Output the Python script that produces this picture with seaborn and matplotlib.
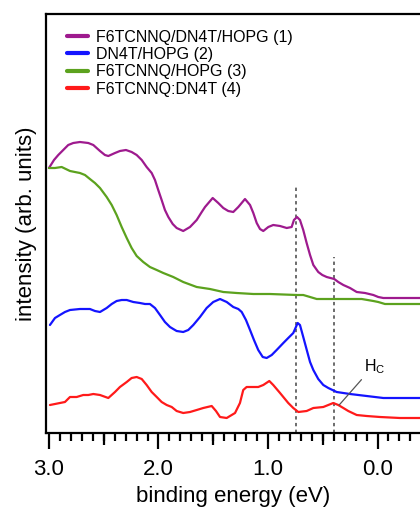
import numpy as np
import pandas as pd
import matplotlib
matplotlib.use("Agg")
import matplotlib.pyplot as plt
from matplotlib.ticker import MultipleLocator, FormatStrFormatter
import seaborn as sns

# ---- data (binding energy in eV, intensity in arb. units) ----
labels = ["F6TCNNQ/DN4T/HOPG (1)", "DN4T/HOPG (2)", "F6TCNNQ/HOPG (3)", "F6TCNNQ:DN4T (4)"]
colors = ["#9e1a8e", "#1414ff", "#5ca21e", "#ff1a1a"]

e1 = [3.000, 2.954, 2.915, 2.824, 2.778, 2.717, 2.641, 2.595, 2.534, 2.489,
      2.458, 2.397, 2.352, 2.297, 2.245, 2.199, 2.153, 2.108, 2.062, 2.032,
      2.002, 1.971, 1.941, 1.910, 1.870, 1.834, 1.774, 1.712, 1.651, 1.605,
      1.575, 1.505, 1.454, 1.408, 1.363, 1.317, 1.271, 1.210, 1.164, 1.134,
      1.103, 1.073, 1.043, 0.997, 0.952, 0.890, 0.829, 0.784, 0.763, 0.735,
      0.708, 0.678, 0.647, 0.616, 0.586, 0.541, 0.504, 0.464, 0.395, 0.358,
      0.312, 0.251, 0.190, 0.114, 0.038, -0.007, -0.053, -0.388]
i1 = [2.65, 2.73, 2.78, 2.88, 2.90, 2.91, 2.90, 2.88, 2.82, 2.78,
      2.77, 2.80, 2.82, 2.83, 2.81, 2.78, 2.73, 2.66, 2.60, 2.53,
      2.43, 2.33, 2.23, 2.16, 2.09, 2.05, 2.02, 2.06, 2.13, 2.21,
      2.26, 2.35, 2.30, 2.25, 2.22, 2.21, 2.26, 2.34, 2.28, 2.20,
      2.10, 2.04, 2.02, 2.06, 2.08, 2.07, 2.05, 2.06, 2.13, 2.16,
      2.13, 2.03, 1.90, 1.78, 1.68, 1.61, 1.58, 1.56, 1.54, 1.51,
      1.48, 1.45, 1.41, 1.40, 1.38, 1.36, 1.35, 1.35]

e2 = [2.991, 2.945, 2.900, 2.854, 2.808, 2.717, 2.626, 2.580, 2.534, 2.473,
      2.427, 2.382, 2.336, 2.290, 2.230, 2.169, 2.123, 2.078, 2.032, 1.986,
      1.941, 1.895, 1.865, 1.834, 1.774, 1.728, 1.682, 1.621, 1.560, 1.500,
      1.438, 1.377, 1.317, 1.271, 1.240, 1.201, 1.164, 1.128, 1.089, 1.048,
      1.012, 0.966, 0.921, 0.860, 0.815, 0.769, 0.729, 0.708, 0.678, 0.641,
      0.616, 0.586, 0.541, 0.495, 0.449, 0.373, 0.251, 0.099, -0.053, -0.205,
      -0.388]
i2 = [1.08, 1.15, 1.18, 1.21, 1.23, 1.24, 1.24, 1.22, 1.21, 1.25,
      1.29, 1.32, 1.33, 1.33, 1.31, 1.30, 1.29, 1.29, 1.25, 1.18,
      1.11, 1.06, 1.04, 1.02, 1.01, 1.03, 1.08, 1.16, 1.25, 1.31,
      1.34, 1.31, 1.26, 1.24, 1.21, 1.13, 1.03, 0.93, 0.83, 0.76,
      0.75, 0.78, 0.83, 0.90, 0.95, 1.00, 1.10, 1.08, 0.96, 0.81,
      0.71, 0.63, 0.54, 0.48, 0.45, 0.41, 0.39, 0.37, 0.35, 0.35,
      0.35]

e3 = [3.000, 2.945, 2.884, 2.808, 2.763, 2.717, 2.671, 2.626, 2.580, 2.534,
      2.473, 2.427, 2.382, 2.336, 2.290, 2.245, 2.199, 2.139, 2.078, 2.016,
      1.956, 1.865, 1.774, 1.651, 1.530, 1.408, 1.286, 1.134, 0.982, 0.738,
      0.678, 0.616, 0.555, 0.495, 0.342, 0.190, 0.144, 0.038, -0.007, -0.068,
      -0.388]
i3 = [2.65, 2.65, 2.66, 2.62, 2.61, 2.60, 2.58, 2.54, 2.50, 2.45,
      2.36, 2.28, 2.18, 2.06, 1.95, 1.85, 1.77, 1.71, 1.66, 1.63,
      1.60, 1.56, 1.51, 1.46, 1.44, 1.41, 1.40, 1.39, 1.39, 1.38,
      1.38, 1.36, 1.34, 1.34, 1.34, 1.34, 1.34, 1.32, 1.31, 1.29,
      1.29]

e4 = [2.991, 2.945, 2.900, 2.854, 2.808, 2.747, 2.687, 2.641, 2.595, 2.534,
      2.458, 2.397, 2.352, 2.290, 2.245, 2.199, 2.153, 2.108, 2.062, 2.016,
      1.971, 1.925, 1.879, 1.834, 1.774, 1.712, 1.651, 1.591, 1.514, 1.475,
      1.438, 1.377, 1.301, 1.256, 1.226, 1.195, 1.149, 1.089, 1.043, 0.988,
      0.952, 0.890, 0.860, 0.815, 0.769, 0.723, 0.647, 0.586, 0.495, 0.404,
      0.358, 0.312, 0.267, 0.190, 0.099, -0.023, -0.205, -0.388]
i4 = [0.28, 0.29, 0.30, 0.31, 0.36, 0.36, 0.38, 0.38, 0.39, 0.38,
      0.35, 0.41, 0.46, 0.51, 0.55, 0.56, 0.54, 0.48, 0.41, 0.36,
      0.31, 0.28, 0.26, 0.22, 0.20, 0.21, 0.23, 0.25, 0.27, 0.22,
      0.16, 0.15, 0.20, 0.30, 0.43, 0.46, 0.46, 0.46, 0.48, 0.52,
      0.48, 0.40, 0.36, 0.30, 0.25, 0.21, 0.22, 0.25, 0.26, 0.30,
      0.28, 0.25, 0.22, 0.18, 0.17, 0.16, 0.15, 0.15]

markers_E = [0.74, 0.40]
markers_top = [2.48, 1.76]
half_ticks = [2.5, 1.5, 0.5]

series = [(e1, i1), (e2, i2), (e3, i3), (e4, i4)]
frames = []
for lab, (e, it) in zip(labels, series):
    frames.append(pd.DataFrame({"energy": e, "intensity": it, "sample": lab}))
df = pd.concat(frames, ignore_index=True)

# ---- style ----
sns.set_style("white")
plt.rcParams["font.family"] = ["Liberation Sans", "DejaVu Sans"]
plt.rcParams["text.color"] = "black"
plt.rcParams["axes.labelcolor"] = "black"
plt.rcParams["xtick.color"] = "black"
plt.rcParams["ytick.color"] = "black"

fig = plt.figure(figsize=(4.2, 5.11), dpi=100)
ax = fig.add_axes([46 / 420, 78 / 511, 374 / 420, 419 / 511])

sns.lineplot(data=df, x="energy", y="intensity", hue="sample", hue_order=labels,
             palette=colors, sort=False, estimator=None, units="sample",
             linewidth=1.6, ax=ax)
for ln in ax.get_lines():
    ln.set_solid_joinstyle("round")
    ln.set_solid_capstyle("round")

for xe, yt in zip(markers_E, markers_top):
    ax.vlines(xe, 0, yt, colors="#444444", linestyles=(0, (2.2, 2.2)), linewidth=1.1, zorder=1)

ax.annotate("H$_\\mathregular{C}$", xy=(0.35, 0.28), xytext=(0.12, 0.66),
            fontsize=11.5, color="black", ha="left", va="center",
            arrowprops=dict(arrowstyle="-", color="#555555", lw=0.9,
                            shrinkA=0, shrinkB=0, relpos=(0.0, 0.0)))

ax.set_xlim(3.027, -0.388)
ax.set_ylim(0, 4.19)

ax.xaxis.set_major_locator(MultipleLocator(1.0))
ax.xaxis.set_minor_locator(MultipleLocator(0.1))
ax.xaxis.set_major_formatter(FormatStrFormatter("%.1f"))
ax.tick_params(axis="x", which="major", direction="out", length=11.5, width=1.6,
               labelsize=16, pad=7.5, bottom=True, color="black", labelcolor="black")
ax.tick_params(axis="x", which="minor", direction="out", length=5.8, width=1.6,
               bottom=True, color="black")
ax.set_yticks([])

sec = ax.secondary_xaxis("bottom")
sec.set_xticks(half_ticks)
sec.tick_params(axis="x", which="major", direction="out", length=8.6, width=1.6,
                labelbottom=False, color="black")
sec.tick_params(axis="x", which="minor", bottom=False)
sec.spines["bottom"].set_visible(False)

for side in ["left", "bottom", "top"]:
    ax.spines[side].set_linewidth(1.6)
    ax.spines[side].set_color("black")
ax.spines["right"].set_visible(False)

ax.set_xlabel("binding energy (eV)", fontsize=16, labelpad=4, color="black")
ax.set_ylabel("intensity (arb. units)", fontsize=16, labelpad=6.5, color="black")

handles, labs = ax.get_legend_handles_labels()
for h in handles:
    h.set_linewidth(3)
leg = ax.legend(handles, labs, loc="upper left", bbox_to_anchor=(21 / 374, 0.963),
                frameon=False, fontsize=11.5, handlelength=1.3, handletextpad=0.5,
                labelspacing=0.15, borderpad=0, borderaxespad=0)
for t in leg.get_texts():
    t.set_color("black")

fig.savefig("out.png", dpi=100)
